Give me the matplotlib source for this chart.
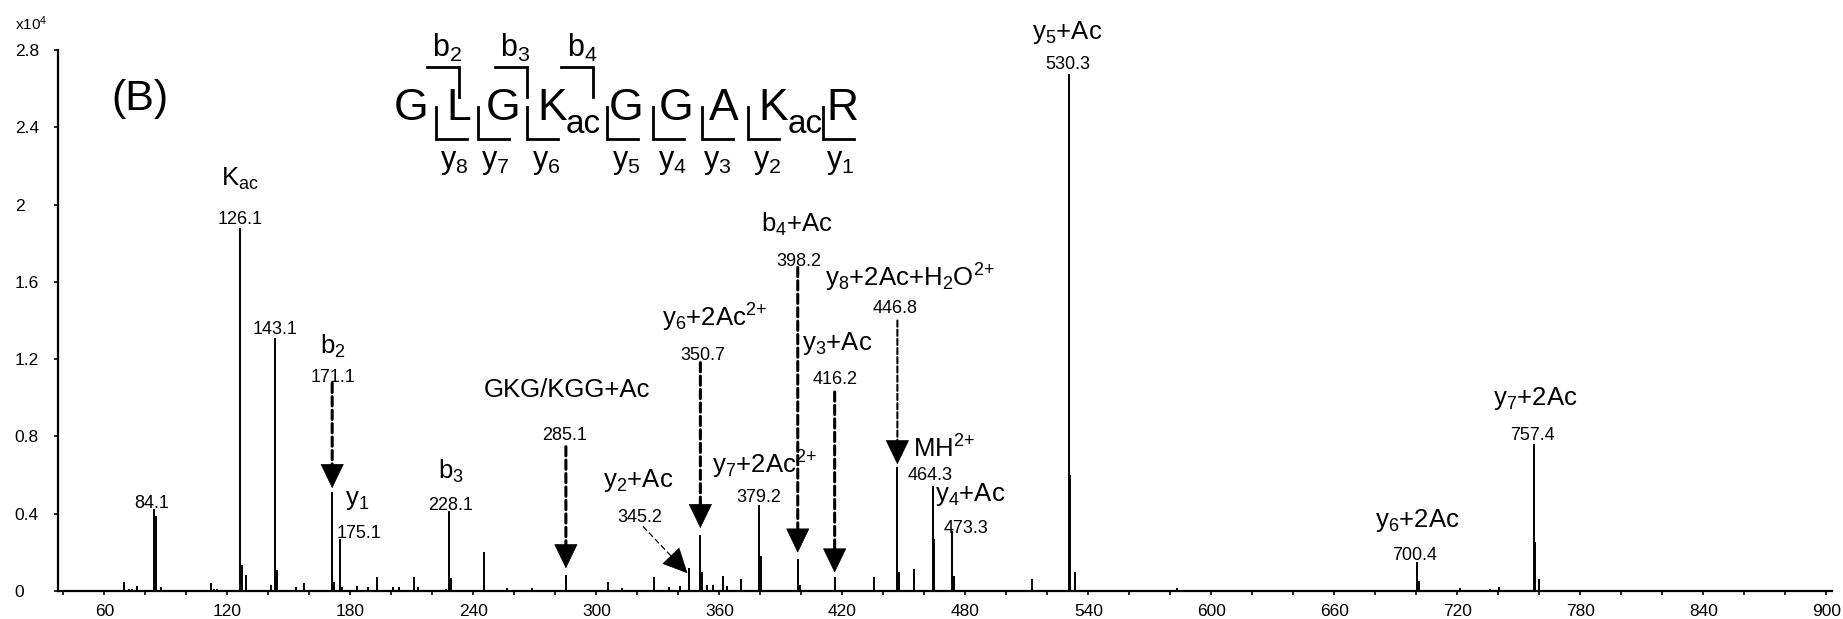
import matplotlib
matplotlib.use("Agg")
import matplotlib.pyplot as plt
from matplotlib.ticker import MultipleLocator, FixedLocator
from matplotlib.lines import Line2D
import numpy as np

plt.rcParams['font.family'] = ['Liberation Sans', 'DejaVu Sans']
plt.rcParams['mathtext.fontset'] = 'custom'
plt.rcParams['mathtext.rm'] = 'Liberation Sans'
plt.rcParams['mathtext.it'] = 'Liberation Sans:italic'
plt.rcParams['mathtext.bf'] = 'Liberation Sans:bold'
plt.rcParams['mathtext.default'] = 'regular'

W, H = 1843, 619

# ---- MS/MS spectrum: m/z and intensity (x10^4 counts) ----
peak_mz = [69.7, 72.0, 73.5, 75.7, 84.1, 85.1, 87.6, 111.8, 113.5, 115.0,
           126.1, 127.1, 129.1, 141.1, 143.1, 144.1, 153.3, 157.5, 171.1, 172.1,
           175.1, 176.1, 183.0, 188.7, 192.8, 200.6, 203.7, 211.2, 213.0, 226.5,
           228.1, 229.1, 245.1, 256.2, 268.4, 285.1, 305.8, 312.3, 328.2, 335.5,
           340.7, 345.2, 350.7, 351.7, 353.8, 356.7, 361.6, 363.8, 370.3, 379.2,
           380.2, 398.2, 399.2, 416.2, 435.5, 446.8, 447.8, 454.9, 464.3, 464.8,
           473.3, 474.3, 512.7, 530.3, 530.8, 533.3, 583.0, 700.4, 701.4, 721.0,
           736.0, 740.5, 757.4, 757.9, 759.8]
peak_int = [0.048, 0.012, 0.010, 0.027, 0.423, 0.388, 0.019, 0.040, 0.012, 0.010,
            1.880, 0.134, 0.082, 0.031, 1.310, 0.110, 0.022, 0.040, 0.514, 0.048,
            0.267, 0.022, 0.027, 0.022, 0.070, 0.019, 0.019, 0.070, 0.022, 0.010,
            0.414, 0.066, 0.203, 0.015, 0.015, 0.083, 0.048, 0.015, 0.071, 0.020,
            0.025, 0.117, 0.290, 0.100, 0.030, 0.030, 0.078, 0.025, 0.060, 0.445,
            0.180, 0.164, 0.030, 0.070, 0.070, 0.643, 0.100, 0.112, 0.545, 0.270,
            0.310, 0.080, 0.060, 2.676, 0.600, 0.100, 0.015, 0.152, 0.050, 0.015,
            0.012, 0.020, 0.760, 0.255, 0.060]

# ---- annotated fragment ions ----
label_mz = ['84.1', '126.1', '143.1', '171.1', '175.1', '228.1', '285.1', '345.2',
            '350.7', '379.2', '398.2', '416.2', '446.8', '464.3', '473.3', '530.3',
            '700.4', '757.4']
ion_names = ['', r'K$_{ac}$', '', r'b$_2$', r'y$_1$', r'b$_3$', 'GKG/KGG+Ac',
             r'y$_2$+Ac', r'y$_6$+2Ac$^{2{+}}$', r'y$_7$+2Ac$^{2{+}}$', r'b$_4$+Ac',
             r'y$_3$+Ac', r'y$_8$+2Ac+H$_2$O$^{2{+}}$', r'MH$^{2{+}}$', r'y$_4$+Ac',
             r'y$_5$+Ac', r'y$_6$+2Ac', r'y$_7$+2Ac']

# text placement (m/z, baseline intensity, alignment)
num_pos = [(83.0, 0.428, 'center'), (126.0, 1.900, 'center'), (143.2, 1.329, 'center'),
           (171.3, 1.083, 'center'), (173.1, 0.273, 'left'), (228.8, 0.419, 'center'),
           (284.6, 0.782, 'center'), (321.2, 0.359, 'center'), (352.1, 1.196, 'center'),
           (379.4, 0.462, 'center'), (398.9, 1.682, 'center'), (416.3, 1.071, 'center'),
           (445.6, 1.437, 'center'), (463.0, 0.576, 'center'), (480.5, 0.300, 'center'),
           (529.8, 2.700, 'center'), (699.3, 0.160, 'center'), (756.7, 0.782, 'center')]
name_pos = [None, (126.1, 2.097, 'center'), None, (171.2, 1.230, 'center'),
            (177.5, 0.445, 'left'), (229.0, 0.583, 'center'), (285.5, 1.006, 'center'),
            (320.4, 0.540, 'center'), (331.9, 1.368, 'left'), (356.2, 0.609, 'left'),
            (397.7, 1.860, 'center'), (417.2, 1.247, 'center'), (411.5, 1.575, 'left'),
            (454.5, 0.690, 'left'), (465.1, 0.464, 'left'), (529.6, 2.858, 'center'),
            (700.4, 0.333, 'center'), (758.1, 0.963, 'center')]

# dashed arrows: (start m/z, start int, target m/z, target int, line width)
arrows = [(171.1, 1.075, 171.1, 0.532, 2.2),
          (285.1, 0.747, 285.1, 0.117, 2.2),
          (350.7, 1.182, 350.7, 0.325, 2.2),
          (398.2, 1.675, 398.2, 0.198, 2.2),
          (416.2, 1.030, 416.2, 0.095, 2.2),
          (446.8, 1.400, 446.8, 0.655, 1.5),
          (322.8, 0.333, 344.4, 0.092, 0.9)]

fig = plt.figure(figsize=(W / 100, H / 100), dpi=100)
ax = fig.add_axes([58.5 / W, 1 - 591 / H, (1832 - 58.5) / W, (591 - 50) / H])
ax.set_xlim(37.6, 902.7)
ax.set_ylim(0, 2.8)

ax.vlines(peak_mz, 0, peak_int, color='black', lw=1.4)

for s in ('top', 'right'):
    ax.spines[s].set_visible(False)
for s in ('left', 'bottom'):
    ax.spines[s].set_linewidth(1.6)

ax.xaxis.set_major_locator(MultipleLocator(60))
ax.xaxis.set_minor_locator(MultipleLocator(20))
ax.tick_params(axis='x', which='both', direction='out', length=3, width=1.2,
               labelsize=12.5, pad=6)
yt = [0, 0.4, 0.8, 1.2, 1.6, 2.0, 2.4, 2.8]
ax.yaxis.set_major_locator(FixedLocator(yt))
ax.set_yticklabels(['0', '0.4', '0.8', '1.2', '1.6', '2', '2.4', '2.8'])
ax.tick_params(axis='y', direction='out', length=3, width=1.2, labelsize=12.5, pad=28.5)
for t in ax.get_yticklabels():
    t.set_horizontalalignment('left')

fig.text(15 / W, 1 - 30 / H, r'x10$^4$', fontsize=11, va='baseline')

for lab, name, npos, tpos in zip(label_mz, ion_names, num_pos, name_pos):
    ax.text(npos[0], npos[1], lab, fontsize=13, ha=npos[2], va='baseline',
            clip_on=False)
    if tpos is not None:
        ax.text(tpos[0], tpos[1], name, fontsize=18.5, ha=tpos[2], va='baseline',
                clip_on=False)

HEAD_LEN = 16.5  # points
for x0, y0, x1, y1, lw in arrows:
    p0 = ax.transData.transform((x0, y0))
    p1 = ax.transData.transform((x1, y1))
    d = (p1 - p0) / np.hypot(*(p1 - p0))
    base = ax.transData.inverted().transform(p1 - d * HEAD_LEN * 100 / 72)
    ax.annotate('', xy=base, xytext=(x0, y0),
                arrowprops=dict(arrowstyle='-', lw=lw, color='black',
                                linestyle=(0, (3.0, 1.4)) if lw > 1 else (0, (4, 3)),
                                shrinkA=0, shrinkB=0))
    ax.annotate('', xy=(x1, y1), xytext=(-d[0] * HEAD_LEN, -d[1] * HEAD_LEN),
                textcoords='offset points',
                arrowprops=dict(arrowstyle='-|>,head_length=0.83,head_width=0.4',
                                mutation_scale=20, lw=0.5, color='black',
                                shrinkA=0, shrinkB=0))

# panel letter
fig.text(111.7 / W, 1 - 110 / H, '(B)', fontsize=31, va='baseline')

# peptide sequence with fragmentation sites
def fx(x):
    return x / W


def fy(y):
    return 1 - y / H


residues = ['G', 'L', 'G', 'K', 'G', 'G', 'A', 'K', 'R']
res_x = [411, 458.5, 503.5, 552.5, 626.5, 676, 724, 773, 842.5]
for r, x in zip(residues, res_x):
    fig.text(fx(x), fy(120), r, fontsize=32, ha='center', va='baseline')
for x in (583.5, 805.5):
    fig.text(fx(x), fy(133), 'ac', fontsize=24, ha='center', va='baseline')

y_ions = [r'y$_8$', r'y$_7$', r'y$_6$', r'y$_5$', r'y$_4$', r'y$_3$', r'y$_2$', r'y$_1$']
y_cut = [435.7, 478, 527, 607, 653, 702, 748, 823]
y_lab = [454, 495, 546, 626, 672, 717, 767, 840]
for name, xc, xl in zip(y_ions, y_cut, y_lab):
    fig.add_artist(Line2D([fx(xc), fx(xc), fx(xc + 31)], [fy(107), fy(139), fy(139)],
                          color='black', lw=2, solid_joinstyle='miter'))
    fig.text(fx(xl), fy(168), name, fontsize=22, ha='center', va='baseline')

b_ions = [r'b$_2$', r'b$_3$', r'b$_4$']
b_cut = [459, 527, 593]
b_lab = [447, 515, 582]
for name, xc, xl in zip(b_ions, b_cut, b_lab):
    fig.add_artist(Line2D([fx(xc - 32), fx(xc), fx(xc)], [fy(67), fy(67), fy(97)],
                          color='black', lw=2, solid_joinstyle='miter'))
    fig.text(fx(xl), fy(57), name, fontsize=22, ha='center', va='baseline')

fig.savefig('out.png', dpi=100)
